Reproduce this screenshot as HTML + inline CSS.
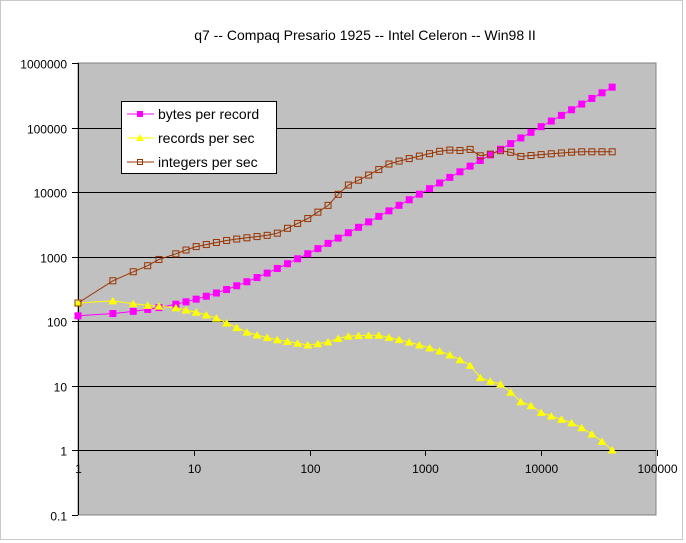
<!DOCTYPE html><html><head><style>body{margin:0;background:#fff}svg{display:block;font-family:"Liberation Sans",Arial,sans-serif}</style></head><body>
<svg id="s" width="686" height="543" xmlns="http://www.w3.org/2000/svg">
<rect x="0.5" y="0.5" width="682" height="539" fill="#fff" stroke="#c8c8c8"/>
<rect x="78" y="63" width="578" height="452" fill="#c0c0c0" stroke="#808080"/>
<text x="365" y="40" font-size="14" text-anchor="middle">q7 -- Compaq Presario 1925 -- Intel Celeron -- Win98 II</text>
<g id="g"></g>
<g id="d"></g>
<rect x="121.5" y="101.5" width="155" height="72" fill="#fff" stroke="#000"/>
<line x1="127" y1="114" x2="154" y2="114" stroke="#ff00ff"/><rect x="137" y="111" width="6" height="6" fill="#ff00ff"/>
<line x1="127" y1="138" x2="154" y2="138" stroke="#ffff00"/><polygon points="140,134 144,141 136,141" fill="#ffff00"/>
<line x1="127" y1="162" x2="154" y2="162" stroke="#993300"/><rect x="137.5" y="159.5" width="5" height="5" fill="none" stroke="#993300"/>
<text x="158" y="119" font-size="14">bytes per record</text>
<text x="158" y="143" font-size="14">records per sec</text>
<text x="158" y="167" font-size="14">integers per sec</text>
</svg>
<script>
var X=v=>78+Math.log10(v)*115.8, Y=v=>450-Math.log10(v)*64.5;
var g='';
var yl=['0.1','1','10','100','1000','10000','100000','1000000'];
for(var i=-1;i<=6;i++){var y=Math.round(Y(Math.pow(10,i)))+0.5;
 if(i>=0&&i<6)g+='<line x1="78" x2="656" y1="'+y+'" y2="'+y+'" stroke="#000"/>';
 g+='<line x1="72" x2="78" y1="'+y+'" y2="'+y+'" stroke="#000"/>';
 g+='<text x="67" y="'+(y+5)+'" font-size="12" text-anchor="end">'+yl[i+1]+'</text>';}
g+='<line x1="78.5" x2="78.5" y1="63" y2="515" stroke="#000"/>';
var xl=['1','10','100','1000','10000','100000'];
for(var i=0;i<=5;i++){var x=Math.round(X(Math.pow(10,i)))+0.5;
 g+='<line x1="'+x+'" x2="'+x+'" y1="450" y2="456" stroke="#000"/>';
 g+='<text x="'+x+'" y="473" font-size="12" text-anchor="middle">'+xl[i]+'</text>';}
document.getElementById('g').innerHTML=g;
var xs=[1,2,3,4,5];for(var k=0;k<=43;k++)xs.push(7*Math.pow(41000/7,k/43));
function interp(t,x){var lx=Math.log10(x);for(var i=0;i<t.length-1;i++){var a=Math.log10(t[i][0]),b=Math.log10(t[i+1][0]);if(lx<=b||i==t.length-2){var f=(lx-a)/(b-a);return Math.pow(10,Math.log10(t[i][1])+f*(Math.log10(t[i+1][1])-Math.log10(t[i][1])));}}}
var R=[[1,190],[2,205],[3,185],[4,175],[5,170],[7,160],[10,140],[15,115],[20,90],[30,65],[50,52],[100,42],[150,48],[200,58],[300,60],[400,60],[500,55],[700,48],[1000,40],[1500,32],[2000,25],[2500,20],[3000,13],[4000,11],[5000,10],[6000,6],[8000,5],[10000,3.8],[20000,2.5],[30000,1.6],[41000,1]];
var I=[[1,190],[2,420],[3,580],[4,720],[5,900],[7,1100],[10,1400],[20,1800],[50,2200],[100,4000],[150,6500],[200,12000],[300,17000],[500,28000],[1000,38000],[1500,45000],[2000,44000],[2500,46000],[3000,36000],[4000,40000],[5000,48000],[6000,35000],[10000,38000],[20000,42000],[41000,42000]];
var d='';
function line(f,c){var p=xs.map(x=>X(x).toFixed(1)+','+Y(f(x)).toFixed(1)).join(' ');d+='<polyline points="'+p+'" fill="none" stroke="'+c+'"/>';}
var B=x=>110+10.3*x;
line(B,'#ff00ff');line(x=>interp(R,x),'#ffff00');line(x=>interp(I,x),'#993300');
xs.forEach(x=>{var px=X(x),py=Y(B(x));d+='<rect x="'+(px-3.5)+'" y="'+(py-3.5)+'" width="7" height="7" fill="#ff00ff"/>';});
xs.forEach(x=>{var px=X(x),py=Y(interp(R,x));d+='<polygon points="'+px+','+(py-4)+' '+(px+4.5)+','+(py+3.5)+' '+(px-4.5)+','+(py+3.5)+'" fill="#ffff00"/>';});
xs.forEach(x=>{var px=X(x),py=Y(interp(I,x));d+='<rect x="'+(px-3)+'" y="'+(py-3)+'" width="6" height="6" fill="none" stroke="#993300"/>';});
document.getElementById('d').innerHTML=d;
</script></body></html>
